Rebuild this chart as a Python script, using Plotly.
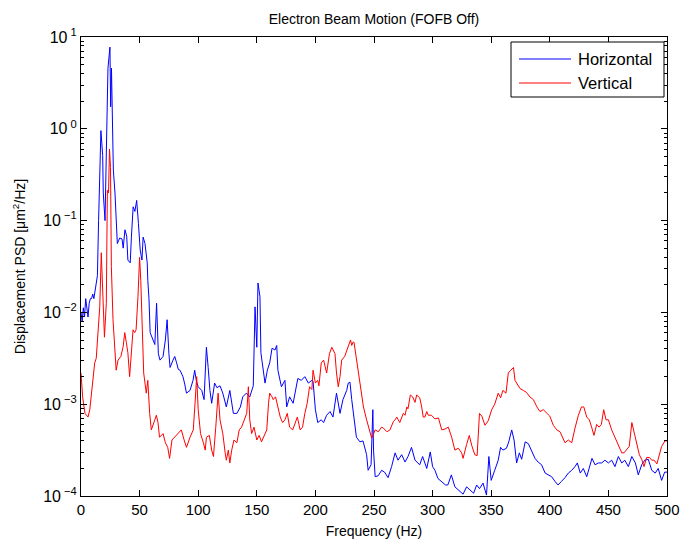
import plotly.graph_objects as go

# ---- Data ----
# Horizontal: frequency [Hz] and log10 of PSD [um^2/Hz]
horizontal_freq = [
    0, 1, 2, 3, 4, 5, 6, 7, 8, 9, 10, 11, 12, 13, 14, 15, 16, 17, 18.5, 19, 20.5,
    22, 23, 24.7, 25.3, 26, 27, 27.6, 29, 30, 31, 32, 33, 35, 36, 37.5, 39, 40,
    42, 43, 44.5, 46, 47.5, 49, 50.5, 52, 53, 54.6, 56.5, 57, 58, 59, 60, 61.5,
    63, 64.5, 66, 67.4, 70, 72, 73.5, 75, 76, 78.5, 80, 81.6, 83, 84.5, 87, 88.5,
    90, 93, 95.6, 97, 98.5, 100, 103, 105, 107, 108.5, 110, 111.5, 114, 116,
    118.6, 121, 124, 127, 130, 133, 136, 138, 141, 144, 147, 148.5, 150, 151,
    152.7, 153.5, 155, 157, 159, 161, 163, 165.5, 167, 168, 171, 174, 175.5, 178,
    181, 184, 185, 188, 191, 194, 197, 198, 199, 200, 202, 205, 207, 209.6, 212.5,
    215, 218, 219.5, 221, 223.5, 226.7, 228, 229.5, 231, 232, 234, 235, 238,
    240.6, 243.7, 245, 247.5, 249, 249.6, 251, 253.5, 256.5, 259, 262, 265, 268,
    270.5, 273.6, 276.5, 279, 282, 285, 289, 291.5, 295, 298, 300, 302, 304.6,
    307, 309, 311, 313, 316, 319, 321, 323.4, 326, 329, 332, 335, 337.6, 340, 343,
    346, 348, 350, 353, 356, 358, 360, 363, 365, 367.5, 369.5, 371.7, 374, 376,
    379, 381.7, 384.5, 387.4, 390, 393, 396, 398.7, 401.6, 404.4, 407, 410, 413,
    415.8, 418.7, 421.5, 423.5, 426, 428.6, 431.5, 434, 436, 438.6, 441.4, 444.3,
    447, 450, 452.8, 455.6, 458.5, 461.4, 464, 467, 470, 473, 475.5, 478.4, 481,
    484, 487, 490, 492.5, 495.4, 498, 500,
]
horizontal_log10_psd = [
    -2.0, -2.1, -1.95, -2.05, -1.85, -1.95, -2.05, -1.9, -1.85, -1.85, -1.8, -1.85,
    -1.75, -1.7, -1.6, -1.0, -0.37, -0.02, -0.29, -0.7, -1.0,
    0.0, 0.66, 0.89, 0.24, 0.66, -0.02, -0.45, -0.7, -1.07, -1.25, -1.22, -1.19,
    -1.2, -1.3, -1.1, -1.17, -1.43,
    -1.46, -1.18, -0.85, -0.9, -0.78, -1.03, -1.32, -1.43, -1.18, -1.25, -1.46,
    -1.65, -1.85, -2.22, -2.25, -2.3,
    -2.35, -1.9, -2.45, -2.52, -2.48, -2.3, -2.08, -2.45, -2.6, -2.52, -2.48,
    -2.55, -2.62, -2.63, -2.7, -2.78,
    -2.88, -2.85, -2.74, -2.63, -2.75, -2.81, -2.85, -2.95, -2.38, -2.6, -2.85,
    -2.99, -2.77, -2.82,
    -2.8, -2.88, -3.03, -2.85, -3.1, -3.1, -3.03, -2.92, -2.88, -2.92, -2.8,
    -1.94, -2.38, -1.68,
    -1.83, -2.44, -2.6, -2.77, -2.63, -2.55, -2.39, -2.41, -2.36, -2.63, -2.81,
    -2.74, -3.03, -2.92,
    -2.99, -2.77, -2.72, -2.74, -2.7, -2.77, -2.74, -2.75, -2.9, -3.06, -3.2,
    -3.17, -3.2, -3.12, -3.08,
    -3.14, -2.88, -2.99, -3.1, -2.95, -2.85, -2.77, -2.76, -2.95, -3.05, -3.2,
    -3.36, -3.41,
    -3.4, -3.55, -3.72, -3.66, -3.06, -3.5, -3.79, -3.78, -3.72, -3.74, -3.8,
    -3.68, -3.53,
    -3.61, -3.55, -3.63, -3.57, -3.47, -3.61, -3.66, -3.57, -3.7, -3.52, -3.68,
    -3.72, -3.81,
    -3.84, -3.86, -3.88, -3.88, -3.77, -3.9, -3.92, -3.95, -3.98, -3.9, -3.93,
    -3.97, -3.88, -3.92, -3.86,
    -3.99, -3.57, -3.83, -3.72, -3.61, -3.47, -3.5, -3.48, -3.41, -3.28, -3.39,
    -3.64, -3.53, -3.6,
    -3.41, -3.43, -3.5, -3.59, -3.63, -3.66, -3.75, -3.77, -3.79, -3.84, -3.88,
    -3.84, -3.8,
    -3.75, -3.72, -3.68, -3.64, -3.75, -3.7, -3.79, -3.66, -3.59, -3.66, -3.64,
    -3.64,
    -3.61, -3.64, -3.61, -3.68, -3.57, -3.64, -3.61, -3.68, -3.57, -3.64, -3.77,
    -3.66, -3.61,
    -3.6, -3.72, -3.75, -3.7, -3.83, -3.74, -3.74,
]

# Vertical: frequency [Hz] and log10 of PSD [um^2/Hz]
vertical_freq = [
    0, 1.4, 3.4, 4.5, 6, 7.5, 9, 10.2, 11.7, 13, 14.5, 16, 17.3, 18.8, 20, 21.6,
    22.5, 23.5, 24.3, 25.2, 25.9, 27.3, 28.7, 30, 31.6, 34, 36, 37.3, 38.7, 40,
    41.5, 43, 44.4, 45.8, 47, 48.6, 50, 51, 52, 53.5, 55.7, 57, 58.6, 60, 63,
    64.3, 65.7, 67, 70, 72, 74, 75.6, 77.6, 80, 83, 85.6, 88, 90, 93, 95.8, 97.3,
    98.7, 100, 102, 104.4, 106, 107, 109.5, 111.5, 113, 115, 117, 118.6, 121, 123,
    124, 125.7, 127, 128.6, 130.5, 133, 135, 137, 139, 141.4, 142.8, 144, 145.6,
    147.6, 150, 152, 154, 156, 158.5, 160, 161, 163, 164, 166, 168, 170, 172, 174,
    176, 178, 180.6, 182.6, 184.6, 187, 189, 191, 193, 195, 197, 198, 200, 202,
    203, 205, 207, 209.6, 212, 214, 216.7, 218, 219.5, 221, 222.4, 225, 228, 230,
    231, 232.3, 233, 235, 238, 241, 243.7, 246.6, 248, 249.4, 251, 253.7, 256.5,
    258, 261, 263.6, 265, 266.5, 268, 269.4, 272, 275, 276.5, 278, 279, 281, 283,
    285, 286.4, 288, 289, 290.7, 292, 293.5, 295, 296.3, 299, 302, 305, 307.8,
    310.6, 313.4, 316.3, 319, 322, 324.8, 326, 329, 331.3, 333.4, 336, 338, 340,
    342, 344.7, 347.5, 350.4, 353, 356, 358, 360, 362.6, 364.6, 366.7, 369, 370.3,
    372.3, 374.6, 377.4, 380, 383, 386, 389, 391.6, 394.5, 397.4, 400, 403, 406,
    408.7, 411.5, 413, 415.8, 418.7, 421.5, 424.4, 427, 429, 431.5, 433.7, 435.7,
    437.7, 440, 442, 444, 446, 448, 450, 452.8, 455.6, 458.5, 461.4, 463.3, 465.6,
    467.8, 470, 472, 474, 476.4, 478.4, 480.4, 482.6, 485, 487, 489, 491.4, 493.5,
    495.4, 498.3, 500,
]
vertical_log10_psd = [
    -2.66, -2.92, -3.1, -3.12, -3.14, -3.06, -2.85, -2.7, -2.55, -2.5, -2.16,
    -1.94, -1.35, -1.87, -2.27, -1.9,
    -0.67, -0.7, -0.22, -0.42, -1.5, -2.08, -2.33, -2.63, -2.52, -2.48, -2.37,
    -2.22, -2.33, -2.44,
    -2.7, -2.44, -2.19, -2.22, -2.19, -1.83, -1.4, -1.65, -2.08, -2.66, -2.88,
    -2.74, -3.1, -3.28, -3.17,
    -3.12, -3.2, -3.36, -3.32, -3.42, -3.47, -3.59, -3.39, -3.36, -3.32, -3.28,
    -3.39, -3.47, -3.36, -3.28, -2.99,
    -2.7, -3.06, -3.32, -3.42, -3.5, -3.36, -3.34, -3.5, -3.57, -3.25, -2.88,
    -3.17, -3.32, -3.53,
    -3.61, -3.5, -3.64, -3.5, -3.39, -3.42, -3.28, -3.25, -3.17, -3.1, -2.81,
    -3.17, -3.32,
    -3.25, -3.39, -3.34, -3.41, -3.36, -3.28, -2.99, -2.88, -2.92, -2.95, -2.92,
    -3.03, -3.14, -3.2, -3.17,
    -3.1, -3.25, -3.28, -3.2, -3.14, -3.28, -3.25, -3.1, -2.99, -2.81, -2.84,
    -2.63, -2.77, -2.74,
    -2.8, -2.55, -2.52, -2.66, -2.45, -2.38, -2.45, -2.66, -2.81, -2.7, -2.52,
    -2.48, -2.36, -2.3,
    -2.36, -2.32, -2.33, -2.52, -2.75, -3.03, -3.17, -3.32, -3.37, -3.33, -3.28,
    -3.3, -3.25,
    -3.26, -3.3, -3.28, -3.24, -3.19, -3.17, -3.14, -3.2, -3.1, -3.12, -3.03,
    -3.05, -2.9, -2.92,
    -2.98, -2.9, -2.92, -2.93, -3.03, -3.14, -3.14, -3.08, -3.12, -3.12, -3.16,
    -3.15, -3.28,
    -3.27, -3.25, -3.36, -3.5, -3.48, -3.53, -3.59, -3.44, -3.34, -3.45, -3.55,
    -3.56, -3.1,
    -3.13, -3.23, -3.18, -3.06, -3.0, -2.88, -2.93, -2.85, -2.88, -2.66, -2.63,
    -2.6, -2.74,
    -2.78, -2.83, -2.85, -2.87, -2.92, -2.95, -3.03, -3.08, -3.06, -3.1, -3.13,
    -3.23, -3.28,
    -3.3, -3.39, -3.42, -3.39, -3.42, -3.26, -3.12, -3.03, -3.03, -3.14, -3.17,
    -3.25,
    -3.34, -3.22, -3.25, -3.22, -3.06, -3.17, -3.17, -3.28, -3.36, -3.46, -3.53,
    -3.53, -3.5,
    -3.46, -3.2, -3.32, -3.43, -3.55, -3.6, -3.68, -3.58, -3.58, -3.61, -3.61,
    -3.65, -3.55,
    -3.46, -3.4, -3.4,
]

series_names = ["Horizontal", "Vertical"]
series_colors = ["#0000ff", "#ff0000"]

y_tick_exponents = [-4, -3, -2, -1, 0, 1]
x_tick_values = [0, 50, 100, 150, 200, 250, 300, 350, 400, 450, 500]

# ---- Figure ----
horizontal_psd = [10 ** v for v in horizontal_log10_psd]
vertical_psd = [10 ** v for v in vertical_log10_psd]

FONT = "Liberation Sans, Arial, Helvetica, sans-serif"
FIG_W, FIG_H = 680, 547
M_L, M_R, M_T, M_B = 81, 13, 37, 51
PLOT_W, PLOT_H = FIG_W - M_L - M_R, FIG_H - M_T - M_B  # 586 x 459
WIN_LEFT, WIN_BOTTOM = 81, 496  # plot-area edges in pixels

fig = go.Figure()
fig.add_trace(go.Scatter(x=horizontal_freq, y=horizontal_psd, mode="lines",
                         name=series_names[0], showlegend=False,
                         line=dict(color=series_colors[0], width=1)))
fig.add_trace(go.Scatter(x=vertical_freq, y=vertical_psd, mode="lines",
                         name=series_names[1], showlegend=False,
                         line=dict(color=series_colors[1], width=1)))

# minor log ticks 2..9 within each decade
minor_vals = [m * 10 ** e for e in y_tick_exponents[:-1] for m in range(2, 10)]

fig.update_layout(
    width=FIG_W, height=FIG_H,
    margin=dict(l=M_L, r=M_R, t=M_T, b=M_B, autoexpand=False),
    paper_bgcolor="white", plot_bgcolor="white",
    font=dict(family=FONT, size=14, color="black"),
    title=dict(text="Electron Beam Motion (FOFB Off)",
               xref="paper", x=0.5, xanchor="center",
               yref="container", y=1 - 19 / FIG_H, yanchor="middle",
               font=dict(size=14, family=FONT)),
)


# MATLAB-style legend box (top right, inside the axes), placed in pixels
def px_x(p):
    return (p - WIN_LEFT) / PLOT_W


def px_y(p):
    return (WIN_BOTTOM - p) / PLOT_H


shapes = [dict(type="rect", xref="paper", yref="paper",
               x0=px_x(511), x1=px_x(664), y0=px_y(97), y1=px_y(42),
               line=dict(color="black", width=1), fillcolor="white", layer="above")]
annotations = []
for i, (name, color) in enumerate(zip(series_names, series_colors)):
    yy = px_y(59 + 24 * i)
    shapes.append(dict(type="line", xref="paper", yref="paper",
                       x0=px_x(519), x1=px_x(571), y0=yy, y1=yy,
                       line=dict(color=color, width=1), layer="above"))
    annotations.append(dict(text=name, xref="paper", yref="paper",
                            x=px_x(576), y=yy, xanchor="left", yanchor="middle",
                            showarrow=False, font=dict(size=16.5, family=FONT)))
fig.update_layout(shapes=shapes, annotations=annotations)

fig.update_xaxes(
    range=[0, 500], tickvals=x_tick_values,
    ticks="inside", ticklen=6, tickcolor="black", tickwidth=1,
    showline=True, linecolor="black", linewidth=1, mirror="allticks",
    showgrid=False, zeroline=False, automargin=False,
    ticklabeloverflow="allow",
    tickfont=dict(size=15, family=FONT),
    title=dict(text="Frequency (Hz)", font=dict(size=14, family=FONT), standoff=9),
)
fig.update_yaxes(
    type="log", range=[-4, 1],
    tickvals=[10 ** e for e in y_tick_exponents],
    ticktext=["10<sup> %s</sup>" % str(e).replace("-", "\u2212") for e in y_tick_exponents],
    ticks="inside", ticklen=6, tickcolor="black", tickwidth=1,
    minor=dict(ticks="inside", ticklen=3, tickcolor="black", showgrid=False,
               tickvals=minor_vals),
    showline=True, linecolor="black", linewidth=1, mirror="allticks",
    showgrid=False, zeroline=False, automargin=False,
    tickfont=dict(size=16, family=FONT),
    title=dict(text="Displacement PSD [\u03bcm<sup>2</sup>/Hz]",
               font=dict(size=14, family=FONT), standoff=14),
)

# remove the page's default body margin and scrollbars so the figure fills the window
page_fix = (
    "document.body.style.margin='0';"
    "document.body.style.overflow='hidden';"
    "document.documentElement.style.overflow='hidden';"
)
fig.write_html("out.html", post_script=page_fix,
               config={"displayModeBar": False})
